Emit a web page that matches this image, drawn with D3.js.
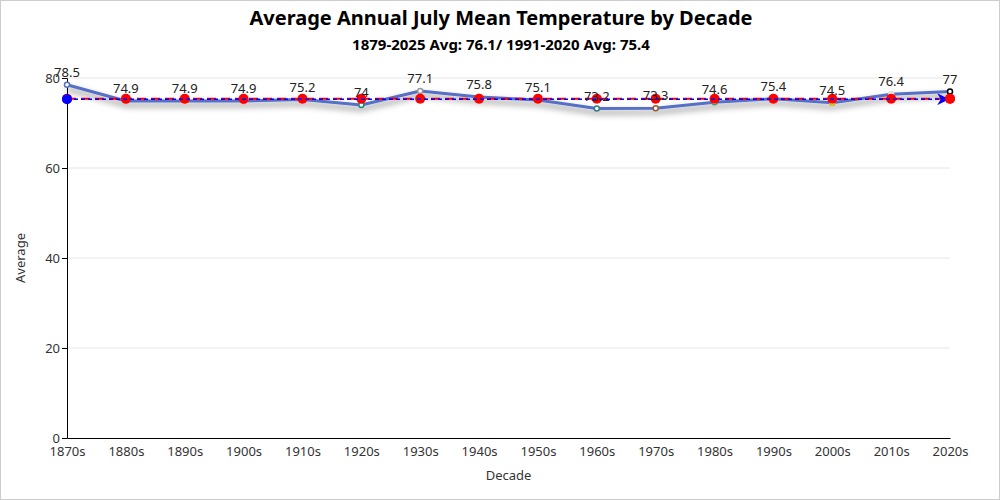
<!DOCTYPE html>
<html>
<head>
<meta charset="utf-8">
<script src="https://cdn.jsdelivr.net/npm/d3@7"></script>
<style>
  html, body { margin: 0; padding: 0; background: #fff; }
  #chart { width: 998px; height: 498px; border: 1px solid #ccc; }
  text { font-family: "Noto Sans", "Open Sans", sans-serif; }
</style>
</head>
<body>
<div id="chart"></div>
<script>
var decades = ["1870s", "1880s", "1890s", "1900s", "1910s", "1920s", "1930s", "1940s",
    "1950s", "1960s", "1970s", "1980s", "1990s", "2000s", "2010s", "2020s"];
var averages = [78.5, 74.9, 74.9, 74.9, 75.2, 74, 77.1, 75.8, 75.1, 73.2, 73.3, 74.6, 75.4, 74.5, 76.4, 77];
var normal = 75.4;   // 1991-2020 avg
var markerColors = ["#5470c6", "#91cc75", "#fac858", "#ee6666", "#73c0de", "#1e8a7e", "#999999", "#fc8452",
    "#9a60b4", "#2f7f7f", "#9c5b2e", "#3ba272", "#ea7ccc", "#c9b800", "#dddddd", "#000000"];
var yTicks = [0, 20, 40, 60, 80];

var margin = { top: 77, right: 51, bottom: 63, left: 66 },
    width = 1000 - margin.left - margin.right,
    height = 500 - margin.top - margin.bottom;

var svg = d3.select("#chart").append("svg")
    .attr("width", 998)
    .attr("height", 498);

var defs = svg.append("defs");
var shadow = defs.append("filter").attr("id", "shadow")
    .attr("x", "-5%").attr("y", "-50%").attr("width", "110%").attr("height", "300%");
shadow.append("feDropShadow")
    .attr("dx", 0).attr("dy", 4).attr("stdDeviation", 3)
    .attr("flood-color", "#000").attr("flood-opacity", 0.5);

defs.append("marker").attr("id", "arrow")
    .attr("viewBox", "0 0 10 10").attr("refX", 9).attr("refY", 5)
    .attr("markerWidth", 18).attr("markerHeight", 12).attr("markerUnits", "userSpaceOnUse")
    .attr("orient", "auto")
    .append("path").attr("d", "M0,0 L10,5 L0,10 L3,5 Z").attr("fill", "#0000ff");

svg.append("text")
    .attr("x", 500).attr("y", 24)
    .attr("text-anchor", "middle")
    .style("font-size", "20px").style("font-weight", "bold")
    .text("Average Annual July Mean Temperature by Decade");

svg.append("text")
    .attr("x", 500).attr("y", 49)
    .attr("text-anchor", "middle")
    .style("font-size", "15px").style("font-weight", "bold")
    .text("1879-2025 Avg: 76.1/ 1991-2020 Avg: 75.4");

var g = svg.append("g").attr("transform", "translate(" + margin.left + "," + margin.top + ")");

var x = d3.scalePoint().domain(decades).range([0, width]);
var y = d3.scaleLinear().domain([0, 80]).range([height, 0]);

// grid
g.selectAll(".grid").data(yTicks.filter(d => d > 0)).enter().append("line")
    .attr("x1", 0).attr("x2", width)
    .attr("y1", d => y(d)).attr("y2", d => y(d))
    .attr("stroke", "#e6e6e6");

// axes
var yAxis = g.append("g").call(d3.axisLeft(y).tickValues(yTicks).tickSize(5).tickPadding(2));
yAxis.select(".domain").attr("stroke", "#000");
yAxis.selectAll("text").style("font-size", "13px").attr("fill", "#333");

var xAxis = g.append("g").attr("transform", "translate(0," + height + ")")
    .call(d3.axisBottom(x).tickSize(0).tickPadding(9).tickSizeOuter(0));
xAxis.select(".domain").attr("stroke", "#000").attr("stroke-width", 1.2);
xAxis.selectAll("text").style("font-size", "13px").attr("fill", "#333");

svg.append("text")
    .attr("transform", "translate(24," + (margin.top + height / 2) + ") rotate(-90)")
    .attr("text-anchor", "middle")
    .style("font-size", "13px").attr("fill", "#333")
    .text("Average");

svg.append("text")
    .attr("x", margin.left + width / 2).attr("y", 479)
    .attr("text-anchor", "middle")
    .style("font-size", "13px").attr("fill", "#333")
    .text("Decade");

// main line
var line = d3.line().x((d, i) => x(decades[i])).y(d => y(d));
g.append("path").datum(averages)
    .attr("d", line)
    .attr("fill", "none")
    .attr("stroke", "#5470c6")
    .attr("stroke-width", 3)
    .attr("stroke-linejoin", "round")
    .attr("filter", "url(#shadow)");

g.selectAll(".pt").data(averages).enter().append("circle")
    .attr("cx", (d, i) => x(decades[i]))
    .attr("cy", d => y(d))
    .attr("r", 2.5)
    .attr("fill", "#fff")
    .attr("stroke", (d, i) => markerColors[i])
    .attr("stroke-width", 1.5);

// 1991-2020 normal series (red)
g.append("path").datum(decades)
    .attr("d", d3.line().x(d => x(d)).y(() => y(normal)))
    .attr("fill", "none")
    .attr("stroke", "#ff0000")
    .attr("stroke-width", 2)
    .attr("stroke-dasharray", "9,5");

g.selectAll(".npt").data(decades).enter().append("circle")
    .attr("cx", d => x(d))
    .attr("cy", y(normal))
    .attr("r", 5)
    .attr("fill", "#ff0000");

// average mark line (blue)
var mean = d3.mean(averages);
g.append("line")
    .attr("x1", 0).attr("x2", width - 2)
    .attr("y1", y(mean)).attr("y2", y(mean))
    .attr("stroke", "#0000ff")
    .attr("stroke-width", 1.5)
    .attr("stroke-dasharray", "4,3")
    .attr("marker-end", "url(#arrow)");
g.append("circle")
    .attr("cx", 0).attr("cy", y(mean))
    .attr("r", 5).attr("fill", "#0000ff");
g.append("circle")
    .attr("cx", width).attr("cy", y(normal))
    .attr("r", 5).attr("fill", "#ff0000");

// value labels
g.selectAll(".lbl").data(averages).enter().append("text")
    .attr("x", (d, i) => x(decades[i]))
    .attr("y", d => y(d) - 8)
    .attr("text-anchor", "middle")
    .style("font-size", "13px").attr("fill", "#222")
    .text(d => d);
</script>
</body>
</html>
